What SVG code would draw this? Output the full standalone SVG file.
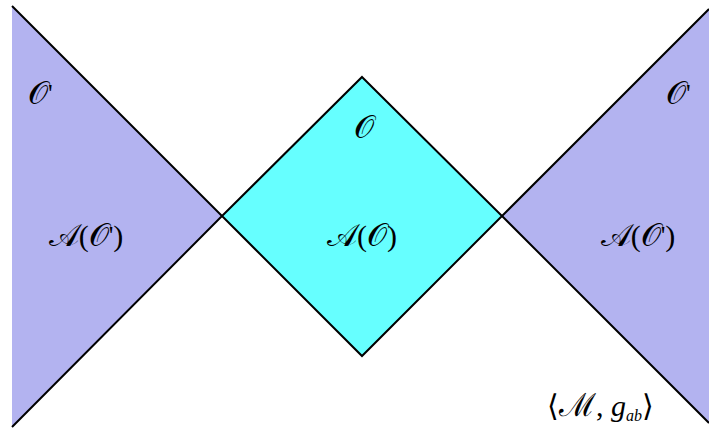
<svg xmlns="http://www.w3.org/2000/svg" width="709" height="428" viewBox="0 0 709 428">
<style>
.region{stroke:none}
.prime{fill:#b3b3f0}
.core{fill:#66ffff}
.edge{stroke:#000;stroke-width:2;fill:none}
text{font-family:"DejaVu Serif","Liberation Serif",serif;font-size:32px;fill:#000}
.p{font-family:"Liberation Serif",serif;font-size:30px}
.pr{font-family:"Liberation Serif",serif;font-size:26px}
.it{font-family:"Liberation Serif",serif;font-style:italic;font-size:30px}
.sub{font-family:"Liberation Serif",serif;font-style:italic;font-size:16px}
.c{text-anchor:middle}
</style>
<rect width="709" height="428" fill="#fff"/>
<g id="left-region">
<polygon class="region prime" points="12,6 222,216 12,427"/>
<text x="28" y="104">𝒪<tspan class="pr" dy="-2">'</tspan></text>
<text class="c" x="86" y="246">𝒜<tspan class="p">(</tspan>𝒪<tspan class="pr" dy="-2">'</tspan><tspan class="p" dy="2">)</tspan></text>
</g>
<g id="center-region">
<polygon class="region core" points="362,77 502,216 362,356 222,216"/>
<text class="c" x="364" y="138">𝒪</text>
<text class="c" x="362" y="246">𝒜<tspan class="p">(</tspan>𝒪<tspan class="p">)</tspan></text>
</g>
<g id="right-region">
<polygon class="region prime" points="709,9 502,216 709,423"/>
<text x="666" y="104">𝒪<tspan class="pr" dy="-2">'</tspan></text>
<text class="c" x="638" y="246">𝒜<tspan class="p">(</tspan>𝒪<tspan class="pr" dy="-2">'</tspan><tspan class="p" dy="2">)</tspan></text>
</g>
<g id="connectors">
<polyline class="edge" points="12,6 222,216 12,427"/>
<polygon class="edge" points="362,77 502,216 362,356 222,216"/>
<polyline class="edge" points="709,9 502,216 709,423"/>
</g>
<g id="spacetime-label">
<text x="547" y="416"><tspan class="p">⟨</tspan>ℳ<tspan class="p">,  </tspan><tspan class="it">g</tspan><tspan class="sub" dy="5">ab</tspan><tspan class="p" dy="-5">⟩</tspan></text>
</g>
</svg>
